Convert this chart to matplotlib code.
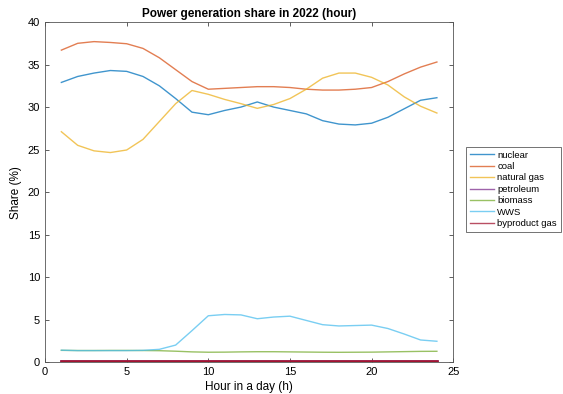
import matplotlib.pyplot as plt
import numpy as np

plt.rcParams['font.family'] = ['Liberation Sans', 'DejaVu Sans']

hours = np.arange(1, 25)
nuclear = [32.9, 33.6, 34.0, 34.3, 34.2, 33.6, 32.5, 31.0, 29.4, 29.1, 29.6, 30.0,
           30.6, 30.0, 29.6, 29.2, 28.4, 28.0, 27.9, 28.1, 28.8, 29.8, 30.8, 31.1]
coal = [36.7, 37.5, 37.7, 37.6, 37.45, 36.9, 35.8, 34.4, 33.0, 32.1, 32.2, 32.3,
        32.4, 32.4, 32.3, 32.1, 32.0, 32.0, 32.1, 32.3, 33.0, 33.9, 34.7, 35.3]
natural_gas = [27.1, 25.5, 24.85, 24.65, 24.95, 26.2, 28.3, 30.4, 31.95, 31.5, 30.9, 30.4,
               29.85, 30.3, 31.0, 32.1, 33.4, 34.0, 34.0, 33.5, 32.6, 31.2, 30.1, 29.3]
petroleum = [0.12] * 24
biomass = [1.38, 1.36, 1.36, 1.37, 1.37, 1.36, 1.34, 1.28, 1.2, 1.16, 1.17, 1.2,
           1.22, 1.22, 1.2, 1.18, 1.16, 1.15, 1.16, 1.17, 1.2, 1.23, 1.26, 1.27]
wws = [1.4, 1.35, 1.35, 1.35, 1.35, 1.38, 1.5, 2.0, 3.7, 5.45, 5.6, 5.55,
       5.1, 5.3, 5.4, 4.9, 4.4, 4.25, 4.3, 4.35, 3.95, 3.3, 2.6, 2.45]
byproduct_gas = [0.15] * 24

series = [("nuclear", nuclear), ("coal", coal), ("natural gas", natural_gas),
          ("petroleum", petroleum), ("biomass", biomass), ("WWS", wws),
          ("byproduct gas", byproduct_gas)]
colors = ["#0072BD", "#D95319", "#EDB120", "#7E2F8E", "#77AC30", "#4DBEEE", "#A2142F"]

fig = plt.figure(figsize=(5.63, 3.94), dpi=100)
ax = fig.add_axes([0.08, 0.081, 0.725, 0.863])

for (name, vals), c in zip(series, colors):
    lw = 1.0
    if name in ("petroleum", "byproduct gas"):
        lw = 1.8
    ax.plot(hours, vals, color=c, lw=lw, alpha=0.75 if lw == 1.0 else 1.0, label=name)

ax.set_xlim(0, 25)
ax.set_ylim(0, 40)
ax.set_xticks(range(0, 26, 5))
ax.set_yticks(range(0, 41, 5))
ax.tick_params(direction='in', top=True, right=True, labelsize=8, length=3,
               color='#444444', width=0.6)
for s in ax.spines.values():
    s.set_color('#555555')
    s.set_linewidth(0.6)
ax.set_xlabel('Hour in a day (h)', fontsize=8.5, labelpad=3)
ax.set_ylabel('Share (%)', fontsize=8.5, labelpad=4)
ax.set_title('Power generation share in 2022 (hour)', fontsize=8.5, fontweight='bold', pad=4)

leg = fig.legend(loc='upper left', bbox_to_anchor=(466 / 563, 1 - 147 / 394),
                 fontsize=6.8, frameon=True, fancybox=False, handlelength=2.6,
                 handletextpad=0.3, labelspacing=0.25, borderpad=0.4, borderaxespad=0)
leg.get_frame().set_edgecolor('#333333')
leg.get_frame().set_linewidth(0.6)
for h in leg.get_lines():
    h.set_linewidth(1.0)
    h.set_alpha(0.75)

fig.savefig('out.png', dpi=100)
